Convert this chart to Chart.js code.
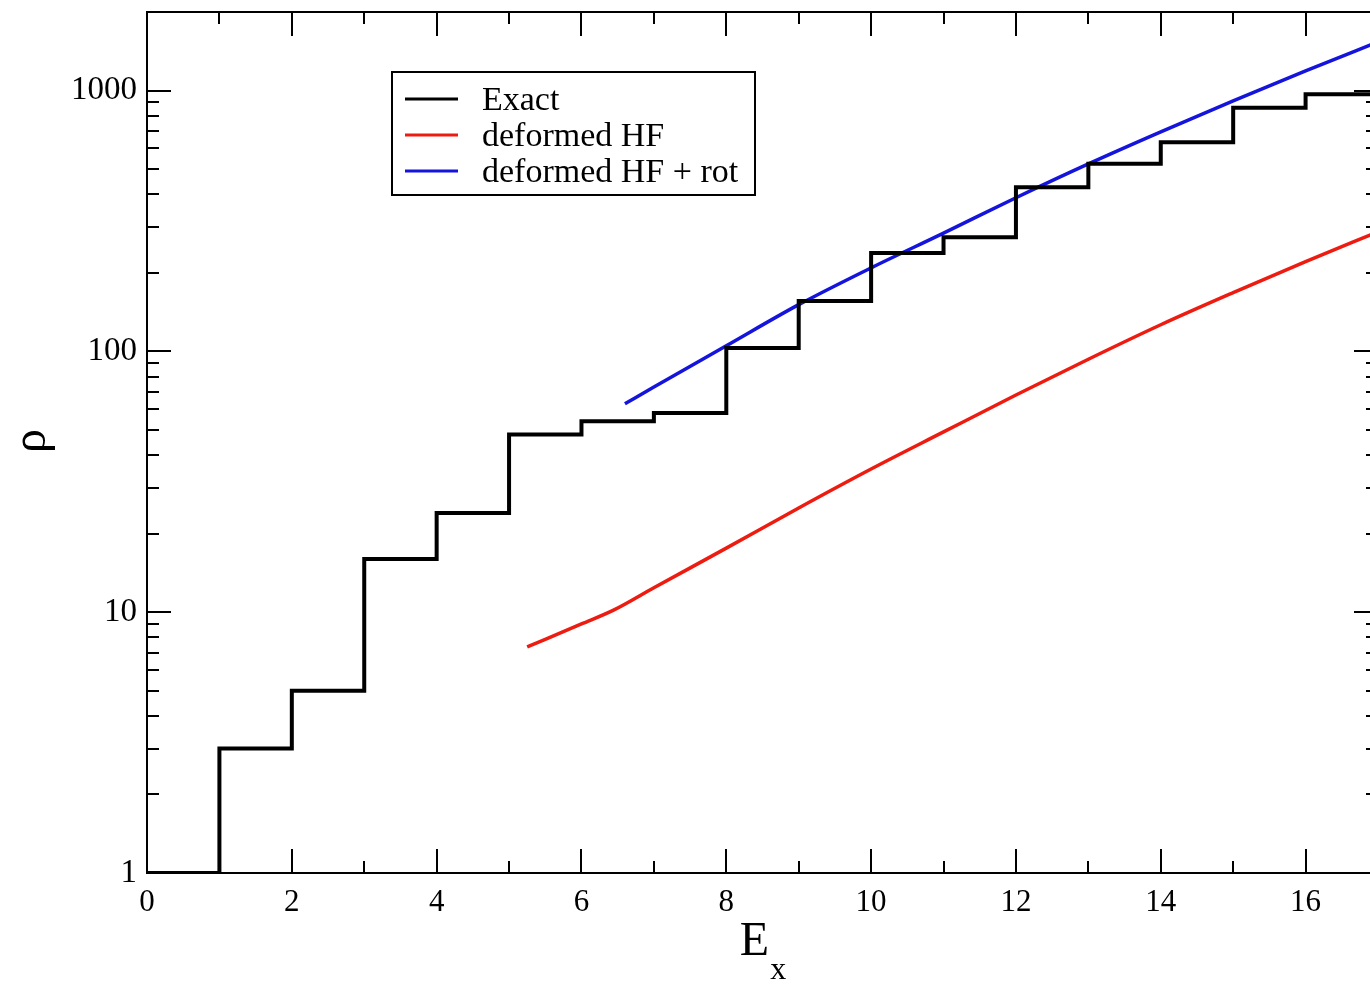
<!DOCTYPE html>
<html>
<head>
<meta charset="utf-8">
<script src="https://cdn.jsdelivr.net/npm/chart.js@4.4.1/dist/chart.umd.min.js"></script>
<style>
  html, body { margin: 0; padding: 0; background: #fff; overflow: hidden; }
  canvas { display: block; }
</style>
</head>
<body>
<canvas id="c" width="1380" height="984"></canvas>
<script>
// level density, exact count (step) vs. deformed HF curves
const exactE = [0, 1, 2, 3, 4, 5, 6, 7, 8, 9, 10, 11, 12, 13, 14, 15, 16, 17];
const exactRho = [1, 3, 5, 16, 24, 48, 54, 58, 103, 156, 238, 274, 426, 524, 634, 858, 968, 968];

const hfE = [5.25, 6, 6.45, 7, 8, 9, 10, 11, 12, 13, 14, 15, 16, 17];
const hfRho = [7.36, 9.01, 10.2, 12.4, 17.6, 25.1, 35.4, 49.1, 68.0, 93.3, 126.5, 168, 221, 287];

const rotE = [6.6, 7, 8, 9, 10, 11, 12, 13, 14, 15, 16, 17];
const rotRho = [62.9, 73.0, 105, 151, 209, 284, 388, 523, 694, 912, 1189, 1536];

const xMajor = [0, 2, 4, 6, 8, 10, 12, 14, 16];
const xMinor = [1, 3, 5, 7, 9, 11, 13, 15];
const yMajor = [1, 10, 100, 1000];
const yMinor = [2, 3, 4, 5, 6, 7, 8, 9, 20, 30, 40, 50, 60, 70, 80, 90, 200, 300, 400, 500, 600, 700, 800, 900];

const serif = '"Liberation Serif", "Times New Roman", serif';

const toXY = (xs, ys) => xs.map((x, i) => ({ x: x, y: ys[i] }));

// frame + inward ticks on all four sides (xmgrace style)
const framePlugin = {
  id: 'frame',
  afterDatasetsDraw(chart) {
    const { ctx, chartArea: a, scales } = chart;
    const xs = scales.x, ys = scales.y;
    ctx.save();
    ctx.strokeStyle = '#000';
    ctx.lineWidth = 2;
    ctx.strokeRect(a.left, a.top, a.right - a.left, a.bottom - a.top);
    ctx.beginPath();
    const xt = (v, len) => {
      const p = Math.round(xs.getPixelForValue(v));
      ctx.moveTo(p, a.bottom); ctx.lineTo(p, a.bottom - len);
      ctx.moveTo(p, a.top); ctx.lineTo(p, a.top + len);
    };
    const yt = (v, len) => {
      const p = Math.round(ys.getPixelForValue(v));
      ctx.moveTo(a.left, p); ctx.lineTo(a.left + len, p);
      ctx.moveTo(a.right, p); ctx.lineTo(a.right - len, p);
    };
    xMajor.forEach(v => xt(v, 24));
    xMinor.forEach(v => xt(v, 12));
    yMajor.forEach(v => yt(v, 24));
    yMinor.forEach(v => yt(v, 12));
    ctx.stroke();
    ctx.restore();
  },
  afterDraw(chart) {
    const { ctx, chartArea: a } = chart;
    ctx.save();

    // legend box
    const bx = 392, by = 72, bw = 363, bh = 123;
    ctx.fillStyle = '#fff';
    ctx.fillRect(bx, by, bw, bh);
    ctx.strokeStyle = '#000';
    ctx.lineWidth = 2;
    ctx.strokeRect(bx, by, bw, bh);
    ctx.font = '34px ' + serif;
    ctx.textAlign = 'left';
    ctx.textBaseline = 'alphabetic';
    chart.data.datasets.forEach((ds, i) => {
      const ly = 99 + i * 36;
      ctx.strokeStyle = ds.borderColor;
      ctx.lineWidth = 3;
      ctx.beginPath();
      ctx.moveTo(405, ly);
      ctx.lineTo(458, ly);
      ctx.stroke();
      ctx.fillStyle = '#000';
      ctx.fillText(ds.label, 482, ly + 11);
    });

    // x axis title E with subscript x
    ctx.fillStyle = '#000';
    ctx.font = '48px ' + serif;
    const wE = ctx.measureText('E').width;
    ctx.font = '32px ' + serif;
    const wx = ctx.measureText('x').width;
    const cx = (a.left + a.right) / 2;
    const x0 = cx - (wE + wx) / 2;
    ctx.font = '48px ' + serif;
    ctx.fillText('E', x0, 955);
    ctx.font = '32px ' + serif;
    ctx.fillText('x', x0 + wE + 1, 979);

    // y axis title
    ctx.translate(45, 441);
    ctx.rotate(-Math.PI / 2);
    ctx.font = '48px ' + serif;
    ctx.textAlign = 'center';
    ctx.fillText('ρ', 0, 0);
    ctx.restore();
  }
};

new Chart(document.getElementById('c'), {
  type: 'line',
  data: {
    datasets: [
      {
        label: 'Exact',
        data: toXY(exactE, exactRho),
        borderColor: '#000000',
        borderWidth: 4,
        stepped: 'before',
        pointRadius: 0,
        fill: false
      },
      {
        label: 'deformed HF',
        data: toXY(hfE, hfRho),
        borderColor: '#ee1c10',
        borderWidth: 3.5,
        cubicInterpolationMode: 'monotone',
        pointRadius: 0,
        fill: false
      },
      {
        label: 'deformed HF + rot',
        data: toXY(rotE, rotRho),
        borderColor: '#1414dc',
        borderWidth: 3.5,
        cubicInterpolationMode: 'monotone',
        pointRadius: 0,
        fill: false
      }
    ]
  },
  options: {
    responsive: false,
    animation: false,
    devicePixelRatio: 1,
    layout: { padding: { top: 12, right: 2, left: 0, bottom: 0 } },
    plugins: {
      legend: { display: false },
      tooltip: { enabled: false }
    },
    scales: {
      x: {
        type: 'linear',
        min: 0,
        max: 17,
        grid: { display: false, drawTicks: false },
        border: { display: false },
        ticks: {
          color: '#000',
          font: { family: serif, size: 31 },
          padding: 11,
          maxRotation: 0,
          autoSkip: false
        },
        afterBuildTicks: s => { s.ticks = xMajor.map(v => ({ value: v })); },
        afterFit: s => { s.height = 111; s.paddingLeft = 0; s.paddingRight = 0; }
      },
      y: {
        type: 'logarithmic',
        min: 1,
        max: 2000,
        grid: { display: false, drawTicks: false },
        border: { display: false },
        ticks: {
          color: '#000',
          font: { family: serif, size: 33 },
          padding: 10,
          autoSkip: false,
          callback: v => String(v)
        },
        afterBuildTicks: s => { s.ticks = yMajor.map(v => ({ value: v })); },
        afterFit: s => { s.width = 147; s.paddingTop = 0; s.paddingBottom = 0; }
      }
    }
  },
  plugins: [framePlugin]
});
</script>
</body>
</html>
